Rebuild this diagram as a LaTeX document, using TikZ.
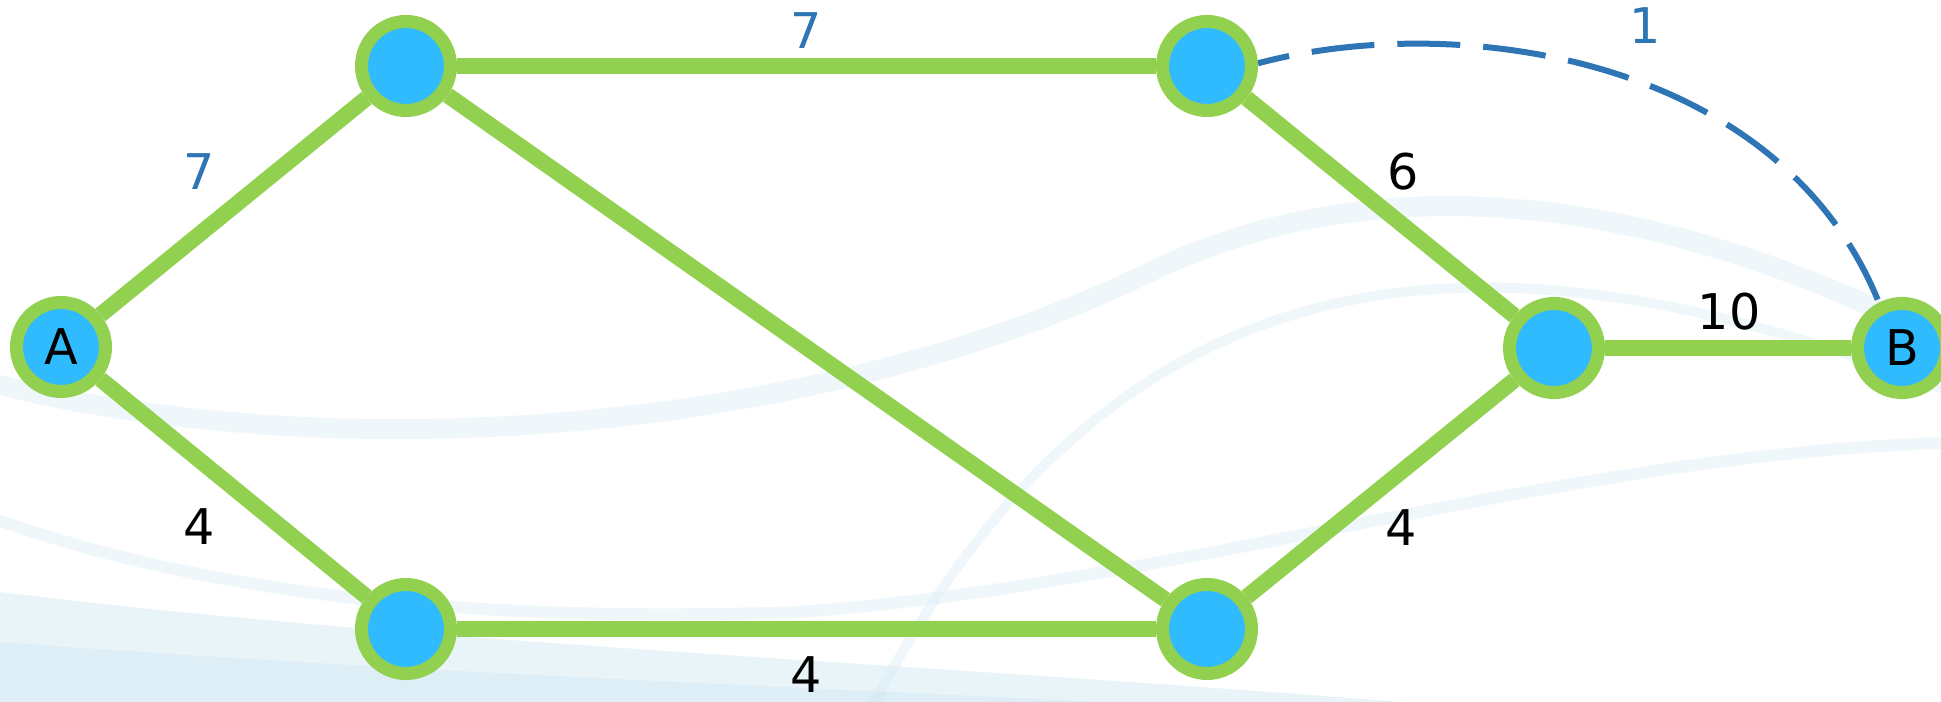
\documentclass[tikz,border=0pt]{standalone}
\usepackage{fontspec}
\setmainfont{DejaVu Sans}
\usetikzlibrary{backgrounds}
\definecolor{cGreen}{HTML}{92D050}
\definecolor{cSky}{HTML}{30BBFE}
\definecolor{cDash}{HTML}{2E75B6}
\definecolor{cWave}{HTML}{CFE7F2}
\newcommand{\wfont}{\fontsize{14}{16}\selectfont}
\tikzset{
  vtx/.style={circle,draw=cGreen,fill=cSky,line width=0.13cm,minimum size=0.89cm,inner sep=0pt,font=\wfont,text=black},
  edge/.style={draw=cGreen,line width=0.16cm},
  dashcurve/.style={draw=cDash,line width=0.06cm,dash pattern=on 0.63cm off 0.23cm,dash phase=0.31cm},
  wlbl/.style={font=\wfont,text=black,inner sep=0pt},
  wave/.style={draw=cWave,line width=#1,opacity=0.3},
  wave/.default=0.2cm,
}

\begin{document}
\begin{tikzpicture}[x=1cm,y=1cm]
    \useasboundingbox (0,0) rectangle (19.41,7.02);
    % nodes
    \node[vtx] (a) at (0.61,3.55) {A};
    \node[vtx] (t1) at (4.06,6.36) {};
    \node[vtx] (t2) at (12.07,6.36) {};
    \node[vtx] (r) at (15.54,3.54) {};
    \node[vtx] (b) at (19.02,3.54) {B};
    \node[vtx] (b1) at (4.06,0.73) {};
    \node[vtx] (b2) at (12.07,0.73) {};
    % faint background swooshes
    \begin{scope}[on background layer]
      \fill[white] (0,0) rectangle (19.41,7.02);
      \clip (0,0) rectangle (19.41,7.02);
      \fill[cWave!45] (0,0) -- (0,1.1) .. controls (4,0.6) and (9,0.4) .. (14,0) -- cycle;
      \fill[cWave!70] (0,0) -- (0,0.6) .. controls (4,0.3) and (8,0.15) .. (11,0) -- cycle;
      \draw[wave] (-0.5,3.3) .. controls (3,2.3) and (8,2.6) .. (11.5,4.3) .. controls (14,5.5) and (17,5.0) .. (20,3.3);
      \draw[wave=0.12cm] (-0.5,2.0) .. controls (2,1.0) and (5,0.8) .. (8,0.9) .. controls (12,1.2) and (16,2.6) .. (20,2.6);
      \draw[wave=0.1cm] (8.5,-0.5) .. controls (11,4.8) and (15,5.0) .. (20,2.9);
    \end{scope}
    % edges
    \begin{scope}[on background layer]
      \draw[edge] (a) -- (t1);
      \draw[edge] (a) -- (b1);
      \draw[edge] (t1) -- (t2);
      \draw[edge] (t1) -- (b2);
      \draw[edge] (b1) -- (b2);
      \draw[edge] (t2) -- (r);
      \draw[edge] (b2) -- (r);
      \draw[edge] (r) -- (b);
      \draw[dashcurve] (t2.3) .. controls +(15:2.0) and +(112:2.7) .. (b.117);
    \end{scope}
    % weights
    \node[wlbl,text=cDash] (w1) at (1.99,5.30) {7};
    \node[wlbl,text=cDash] (w2) at (8.06,6.71) {7};
    \node[wlbl,text=cDash] (w3) at (16.45,6.76) {1};
    \node[wlbl] (w4) at (1.99,1.75) {4};
    \node[wlbl] (w5) at (8.06,0.27) {4};
    \node[wlbl] (w6) at (14.03,5.30) {6};
    \node[wlbl] (w7) at (14.01,1.74) {4};
    \node[wlbl] (w8) at (17.29,3.90) {10};
\end{tikzpicture}
\end{document}
